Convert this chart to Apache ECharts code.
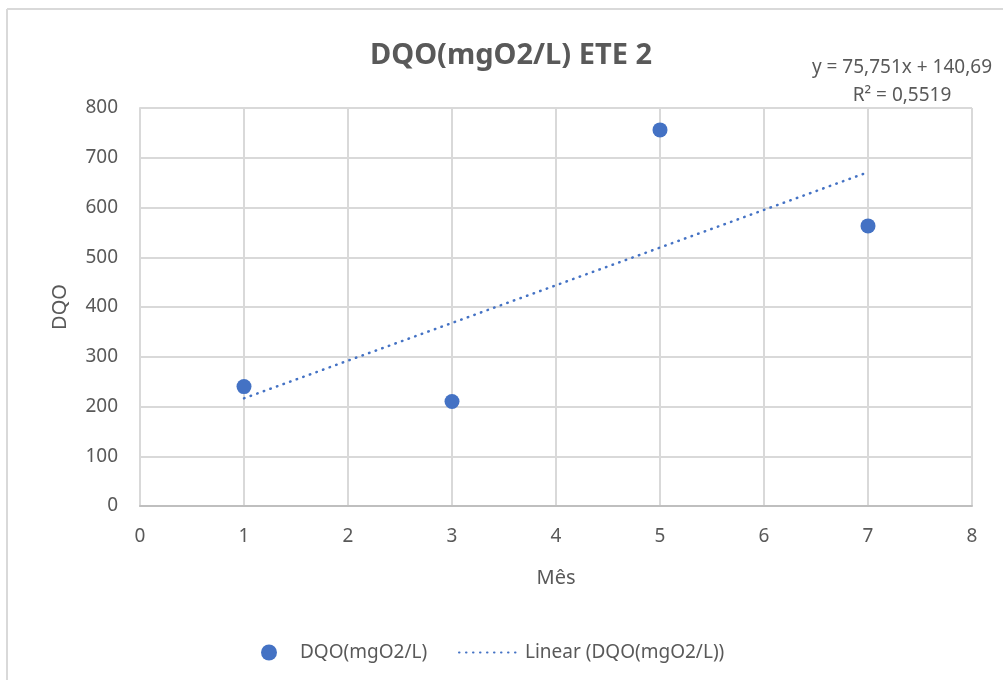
<!DOCTYPE html>
<html>
<head>
<meta charset="utf-8">
<script src="https://cdn.jsdelivr.net/npm/echarts@6/dist/echarts.min.js"></script>
<style>
html,body{margin:0;padding:0;background:#fff;}
#chart{width:1003px;height:680px;}
</style>
</head>
<body>
<div id="chart"></div>
<script>
// Data
var months = [1, 3, 5, 7];
var dqoValues = [240, 210, 756, 563];
var trendSlope = 75.751;
var trendIntercept = 140.69;
var trendRange = [1, 7];
var yTicks = [0, 100, 200, 300, 400, 500, 600, 700, 800];
var xTicks = [0, 1, 2, 3, 4, 5, 6, 7, 8];
var seriesName = 'DQO(mgO2/L)';
var trendName = 'Linear (DQO(mgO2/L))';
var titleText = 'DQO(mgO2/L) ETE 2';
var eqText = 'y = 75,751x + 140,69';
var r2Text = 'R² = 0,5519';

var scatterData = months.map(function (m, i) { return [m, dqoValues[i]]; });
var trendData = trendRange.map(function (x) { return [x, trendSlope * x + trendIntercept]; });

var FONT = "'Noto Sans', 'Open Sans', sans-serif";
var GRAY = '#595959';
var BLUE = '#4472c4';

var chart = echarts.init(document.getElementById('chart'), null, {renderer: 'canvas'});
chart.setOption({
  backgroundColor: '#ffffff',
  animation: false,
  title: [
    {text: titleText, left: 506, textAlign: 'center', top: 36,
     textStyle: {fontFamily: FONT, fontSize: 29, fontWeight: 'bold', color: GRAY}},
    {text: eqText, right: 6, top: 53,
     textStyle: {fontFamily: FONT, fontSize: 19, fontWeight: 'normal', color: GRAY}},
    {text: r2Text, left: 897, textAlign: 'center', top: 81,
     textStyle: {fontFamily: FONT, fontSize: 19, fontWeight: 'normal', color: GRAY}}
  ],
  graphic: [
    {type: 'line', shape: {x1: 7, y1: 9, x2: 1003, y2: 9}, style: {stroke: '#d9d9d9', lineWidth: 2}},
    {type: 'line', shape: {x1: 7, y1: 9, x2: 7, y2: 680}, style: {stroke: '#d9d9d9', lineWidth: 2}}
  ],
  grid: {left: 140, right: 31, top: 108, bottom: 174},
  legend: [
    {data: [{name: seriesName, icon: 'circle'}], left: 256, top: 638, itemWidth: 16, itemHeight: 16,
     itemStyle: {opacity: 1},
     textStyle: {fontFamily: FONT, fontSize: 19, color: GRAY, padding: [0, 0, 0, 18]}},
    {data: [{name: trendName}], left: 453, top: 638, itemWidth: 58, itemHeight: 16,
     itemStyle: {opacity: 0},
     textStyle: {fontFamily: FONT, fontSize: 19, color: GRAY, padding: [0, 0, 0, 3]}}
  ],
  xAxis: {
    type: 'value', min: xTicks[0], max: xTicks[xTicks.length - 1], interval: 1,
    name: 'Mês', nameLocation: 'middle', nameGap: 62,
    nameTextStyle: {fontFamily: FONT, fontSize: 20, color: GRAY},
    axisLine: {show: true, lineStyle: {color: '#bfbfbf', width: 2}},
    axisTick: {show: false},
    axisLabel: {fontFamily: FONT, fontSize: 19, color: GRAY, margin: 21},
    splitLine: {show: true, lineStyle: {color: '#d9d9d9', width: 2}}
  },
  yAxis: {
    type: 'value', min: yTicks[0], max: yTicks[yTicks.length - 1], interval: 100,
    name: 'DQO', nameLocation: 'middle', nameGap: 70, nameRotate: 90,
    nameTextStyle: {fontFamily: FONT, fontSize: 20, color: GRAY},
    axisLine: {show: true, lineStyle: {color: '#d9d9d9', width: 2}},
    axisTick: {show: false},
    axisLabel: {fontFamily: FONT, fontSize: 19, color: GRAY, margin: 22},
    splitLine: {show: true, lineStyle: {color: '#d9d9d9', width: 2}}
  },
  series: [
    {name: seriesName, type: 'scatter', data: scatterData, symbol: 'circle', symbolSize: 15,
     itemStyle: {color: BLUE, opacity: 1}, z: 3},
    {name: trendName, type: 'line', data: trendData, showSymbol: false, symbol: 'none',
     itemStyle: {color: BLUE},
     lineStyle: {color: BLUE, width: 2.5, type: [0.5, 6.5], cap: 'round'}, z: 2}
  ]
});
</script>
</body>
</html>
